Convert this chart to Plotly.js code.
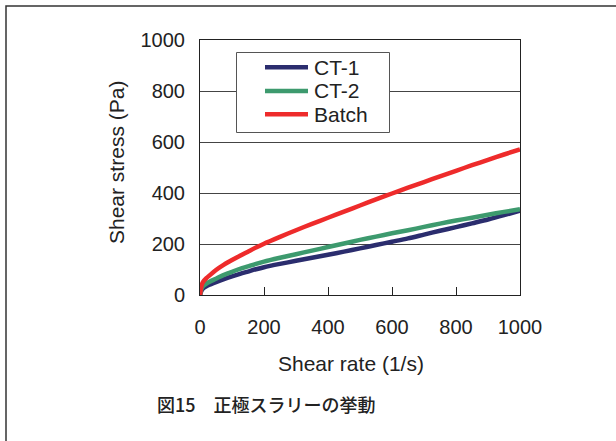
<!DOCTYPE html>
<html>
<head>
<meta charset="utf-8">
<script src="https://cdn.plot.ly/plotly-3.0.1.min.js"></script>
<style>html,body{margin:0;padding:0;background:#fff;}#chart{width:616px;height:441px;}</style>
</head>
<body>
<div id="chart"></div>
<script>
// Shear rate (1/s)
const shearRate = [0, 5, 10, 20, 30, 50, 75, 100, 125, 150, 175, 200, 250, 300, 350, 400, 450, 500, 550, 600, 650, 700, 750, 800, 850, 900, 950, 1000];
// Shear stress (Pa)
const ct1   = [0, 18, 26, 34, 40, 50, 62, 73, 83, 92, 101, 109, 122, 134, 146, 158, 170, 183, 196, 209, 222, 237, 252, 266, 281, 296, 313, 331];
const ct2   = [0, 25, 35, 45, 52, 64, 79, 91, 102, 112, 122, 131, 146, 160, 174, 188, 202, 216, 229, 242, 254, 267, 280, 292, 303, 315, 326, 336];
const batch = [0, 38, 52, 66, 77, 98, 119, 137, 154, 170, 186, 201, 228, 254, 279, 303, 327, 351, 375, 398, 421, 443, 465, 487, 509, 530, 551, 571];
const seriesNames = ['CT-1', 'CT-2', 'Batch'];
const xTicks = [0, 200, 400, 600, 800, 1000];
const yTicks = [0, 200, 400, 600, 800, 1000];
const caption = '図15　正極スラリーの挙動';
const xTitle = 'Shear rate (1/s)';
const yTitle = 'Shear stress (Pa)';

const colors = ['#2b2d6e', '#3d9a6e', '#ee2b2b'];
const ys = [ct1, ct2, batch];
const traces = ys.map((y, i) => ({
  x: shearRate, y: y, type: 'scatter', mode: 'lines', name: seriesNames[i],
  showlegend: false,
  line: {color: colors[i], width: 4.5, shape: 'spline', smoothing: 0.8}
}));

const L = 200, R = 520, T = 40, B = 295;
const px2x = p => (p - L) / (R - L);
const px2y = p => (B - p) / (B - T);
const tickFont = {family: 'Liberation Sans, Arial, sans-serif', size: 20, color: '#222'};
const titleFont = {family: 'Liberation Sans, Arial, sans-serif', size: 21, color: '#222'};

// custom legend (box, samples, labels) built from the series names/colours
const legRows = [67.3, 91, 114.3];
const shapes = [
  {type: 'rect', xref: 'paper', yref: 'paper', x0: px2x(6), x1: px2x(640), y0: px2y(6), y1: px2y(470),
   line: {color: '#333', width: 1.5}, fillcolor: 'rgba(0,0,0,0)', layer: 'below'},
  {type: 'rect', xref: 'paper', yref: 'paper', x0: px2x(236.5), x1: px2x(389.5), y0: px2y(52.5), y1: px2y(132.5),
   line: {color: '#555', width: 1}, fillcolor: '#fff', layer: 'above'}
];
const annotations = [
  {text: xTitle, xref: 'paper', yref: 'paper', x: px2x(351), y: px2y(363),
   xanchor: 'center', yanchor: 'middle', showarrow: false, font: titleFont},
  {text: yTitle, xref: 'paper', yref: 'paper', x: px2x(116), y: px2y(163),
   xanchor: 'center', yanchor: 'middle', showarrow: false, textangle: -90, font: titleFont},
  {text: caption, xref: 'paper', yref: 'paper', x: px2x(266), y: px2y(404),
   xanchor: 'center', yanchor: 'middle', showarrow: false,
   font: {family: 'Noto Sans CJK JP, sans-serif', size: 18, color: '#222', weight: 500}}
];
seriesNames.forEach((nm, i) => {
  shapes.push({type: 'line', xref: 'paper', yref: 'paper', x0: px2x(265), x1: px2x(308),
    y0: px2y(legRows[i]), y1: px2y(legRows[i]), line: {color: colors[i], width: 4.5}, layer: 'above'});
  annotations.push({text: nm, xref: 'paper', yref: 'paper', x: px2x(312), y: px2y(legRows[i]),
    xanchor: 'left', yanchor: 'middle', showarrow: false, font: titleFont});
});

const layout = {
  width: 616, height: 441,
  margin: {l: L, r: 616 - R, t: T, b: 441 - B},
  paper_bgcolor: '#fff', plot_bgcolor: '#fff',
  font: tickFont,
  showlegend: false,
  xaxis: {
    range: [0, 1000], tickvals: xTicks, ticktext: xTicks.map(String),
    ticks: 'inside', ticklen: 8, tickcolor: '#222', tickwidth: 1,
    showline: true, linecolor: '#222', linewidth: 1, mirror: true,
    showgrid: false, zeroline: false, ticklabelstandoff: 14,
    tickfont: tickFont
  },
  yaxis: {
    range: [0, 1000], tickvals: yTicks, ticktext: yTicks.map(String),
    ticks: '', showline: true, linecolor: '#222', linewidth: 1, mirror: true,
    showgrid: true, gridcolor: '#444', gridwidth: 1, zeroline: false,
    ticklabelstandoff: 10, tickfont: tickFont
  },
  annotations: annotations,
  shapes: shapes
};

Plotly.newPlot('chart', traces, layout, {staticPlot: true, displayModeBar: false});
</script>
</body>
</html>
